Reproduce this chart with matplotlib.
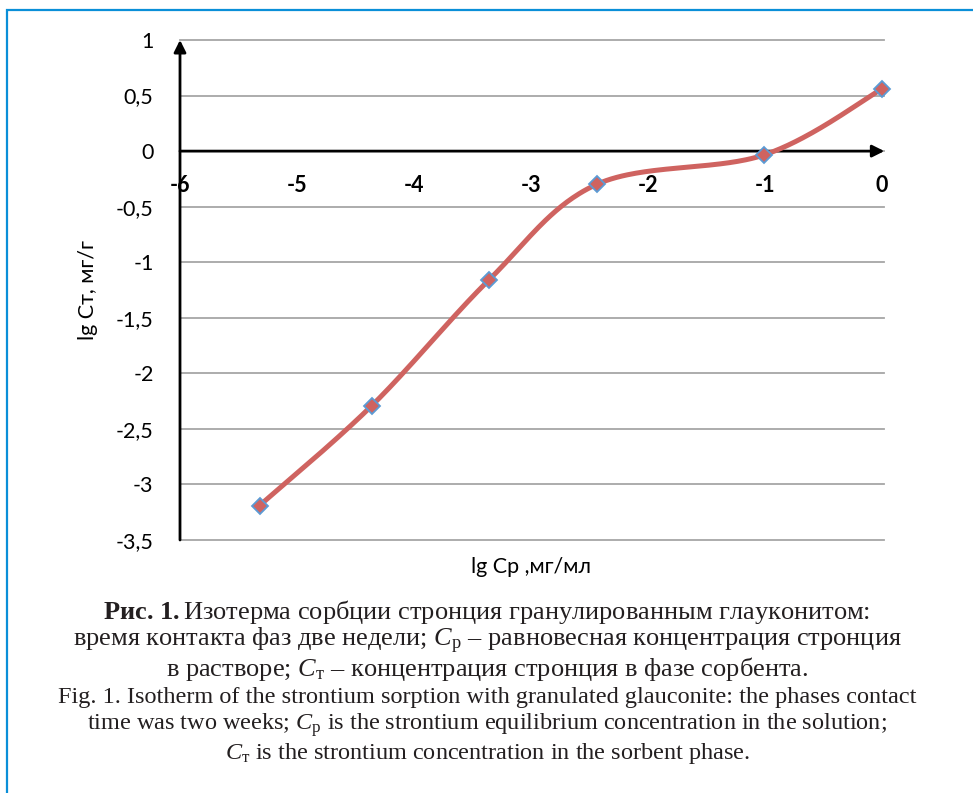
import matplotlib
matplotlib.use("Agg")
import matplotlib.pyplot as plt
from matplotlib.patches import Rectangle
import numpy as np

# ---- data ----
lg_cp = [-5.32, -4.36, -3.36, -2.44, -1.01, 0.0]
lg_ct = [-3.19, -2.29, -1.16, -0.30, -0.035, 0.56]
x_ticks = [-6, -5, -4, -3, -2, -1, 0]
x_tick_labels = ["-6", "-5", "-4", "-3", "-2", "-1", "0"]
y_ticks = [1, 0.5, 0, -0.5, -1, -1.5, -2, -2.5, -3, -3.5]
y_tick_labels = ["1", "0,5", "0", "-0,5", "-1", "-1,5", "-2", "-2,5", "-3", "-3,5"]

plt.rcParams['mathtext.fontset'] = 'custom'
plt.rcParams['mathtext.rm'] = 'Liberation Serif'
plt.rcParams['mathtext.it'] = 'Liberation Serif:italic'
plt.rcParams['mathtext.bf'] = 'Liberation Serif:bold'

W, H = 973, 793
fig = plt.figure(figsize=(W / 100, H / 100), dpi=100)

# frame
fig.patches.append(Rectangle((7 / W, -0.2), 2.0, 1 - 10 / H + 0.2, transform=fig.transFigure,
                             fill=False, edgecolor='#0a8fd8', lw=1.6))

ax = fig.add_axes([180 / W, 1 - 540 / H, (882 - 180) / W, (540 - 40) / H])
ax.set_xlim(-6, 0)
ax.set_ylim(-3.5, 1)
for s in ax.spines.values():
    s.set_visible(False)

# gridlines
for yv in y_ticks:
    ax.plot([-6, 0.02], [yv, yv], color='#a6a6a6', lw=1.3, zorder=1, clip_on=False)

# axes with arrows
ax.annotate('', xy=(0.02, 0), xytext=(-6, 0), xycoords='data',
            arrowprops=dict(arrowstyle='-|>', lw=2.0, color='black', mutation_scale=18,
                            shrinkA=0, shrinkB=0), zorder=3, annotation_clip=False)
ax.annotate('', xy=(-6, 1.0), xytext=(-6, -3.5), xycoords='data',
            arrowprops=dict(arrowstyle='-|>', lw=2.0, color='black', mutation_scale=18,
                            shrinkA=0, shrinkB=0), zorder=3, annotation_clip=False)

# smooth curve (Catmull-Rom / Bezier like Excel smoothing)
P = np.column_stack([lg_cp, lg_ct])
n = len(P)
xs, ys = [], []
t = np.linspace(0, 1, 60)
for i in range(n - 1):
    p0 = P[i]
    p3 = P[i + 1]
    prev = P[i - 1] if i > 0 else P[i]
    nxt = P[i + 2] if i + 2 < n else P[i + 1]
    c1 = p0 + (p3 - prev) / 6
    c2 = p3 - (nxt - p0) / 6
    b = ((1 - t) ** 3)[:, None] * p0 + (3 * (1 - t) ** 2 * t)[:, None] * c1 + \
        (3 * (1 - t) * t ** 2)[:, None] * c2 + (t ** 3)[:, None] * p3
    xs.extend(b[:, 0]); ys.extend(b[:, 1])
ax.plot(xs, ys, color='#cf6360', lw=3.6, zorder=4, solid_capstyle='round', clip_on=False)
ax.plot(lg_cp, lg_ct, linestyle='none', marker='D', markersize=8, markerfacecolor='#cf6360',
        markeredgecolor='#5b9bd5', markeredgewidth=1.3, zorder=5, clip_on=False)

# ticks
ax.set_xticks(x_ticks)
ax.set_xticklabels([])
ax.set_yticks(y_ticks)
ax.set_yticklabels(y_tick_labels, fontsize=15.5, family='Lato')
ax.tick_params(axis='y', length=0, pad=19)
ax.tick_params(axis='x', length=0)
for xv, lab in zip(x_ticks, x_tick_labels):
    ax.annotate(lab, xy=(xv, 0), xytext=(0, -25), textcoords='offset points',
                ha='center', va='center', fontsize=15.5, fontweight='bold', family='Lato',
                annotation_clip=False)

fig.text(88 / W, 1 - 290 / H, "lg Cт, мг/г", rotation=90, ha='center', va='center',
         fontsize=15.5, family='Lato')
fig.text(531 / W, 1 - 567 / H, "lg Cp ,мг/мл", ha='center', va='center',
         fontsize=15.5, family='Lato')

# caption
cap_lines = [
    r"$\mathbf{Рис.\,1.}$Изотерма сорбции стронция гранулированным глауконитом:",
    r"время контакта фаз две недели; $C_\mathrm{р}$ – равновесная концентрация стронция",
    r"в растворе; $C_\mathrm{т}$ – концентрация стронция в фазе сорбента.",
    r"Fig. 1. Isotherm of the strontium sorption with granulated glauconite: the phases contact",
    r"time was two weeks; $C_\mathrm{p}$ is the strontium equilibrium concentration in the solution;",
    r"$C_\mathrm{т}$ is the strontium concentration in the sorbent phase.",
]
cap_y = [612, 641, 669, 697, 725, 753]
cap_sizes = [19, 19, 19, 17.5, 17.5, 17.5]
for s, yy, fs in zip(cap_lines, cap_y, cap_sizes):
    fig.text(487 / W, 1 - yy / H, s, ha='center', va='center', fontsize=fs,
             family='Liberation Serif', color='#231f20')

fig.savefig("out.png", dpi=100)
